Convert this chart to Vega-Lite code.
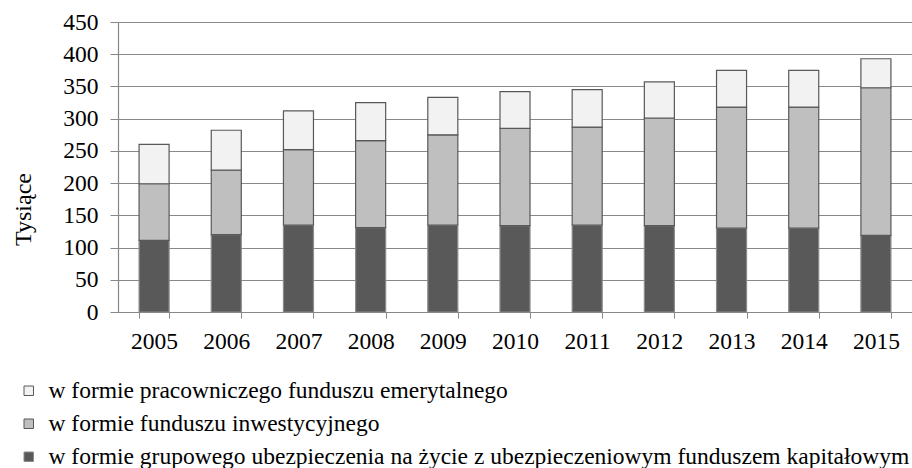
{
  "$schema": "https://vega.github.io/schema/vega-lite/v6.json",
  "width": 794,
  "height": 290,
  "autosize": {"type": "none"},
  "padding": {"left": 118, "top": 22, "right": 0, "bottom": 156},
  "background": "white",
  "config": {
    "view": {"stroke": null},
    "font": "Liberation Serif, Times New Roman, serif",
    "axis": {"labelFont": "Liberation Serif, Times New Roman, serif", "titleFont": "Liberation Serif, Times New Roman, serif", "labelColor": "#000", "titleColor": "#000"},
    "legend": {"labelFont": "Liberation Serif, Times New Roman, serif"}
  },
  "data": {
    "values": [
      {"rok": "2005", "seria": "w formie grupowego ubezpieczenia na życie z ubezpieczeniowym funduszem kapitałowym", "k": 1, "wartosc": 111},
      {"rok": "2005", "seria": "w formie funduszu inwestycyjnego", "k": 2, "wartosc": 88},
      {"rok": "2005", "seria": "w formie pracowniczego funduszu emerytalnego", "k": 3, "wartosc": 61},
      {"rok": "2006", "seria": "w formie grupowego ubezpieczenia na życie z ubezpieczeniowym funduszem kapitałowym", "k": 1, "wartosc": 120},
      {"rok": "2006", "seria": "w formie funduszu inwestycyjnego", "k": 2, "wartosc": 100},
      {"rok": "2006", "seria": "w formie pracowniczego funduszu emerytalnego", "k": 3, "wartosc": 62},
      {"rok": "2007", "seria": "w formie grupowego ubezpieczenia na życie z ubezpieczeniowym funduszem kapitałowym", "k": 1, "wartosc": 135},
      {"rok": "2007", "seria": "w formie funduszu inwestycyjnego", "k": 2, "wartosc": 117},
      {"rok": "2007", "seria": "w formie pracowniczego funduszu emerytalnego", "k": 3, "wartosc": 60},
      {"rok": "2008", "seria": "w formie grupowego ubezpieczenia na życie z ubezpieczeniowym funduszem kapitałowym", "k": 1, "wartosc": 131},
      {"rok": "2008", "seria": "w formie funduszu inwestycyjnego", "k": 2, "wartosc": 135},
      {"rok": "2008", "seria": "w formie pracowniczego funduszu emerytalnego", "k": 3, "wartosc": 59},
      {"rok": "2009", "seria": "w formie grupowego ubezpieczenia na życie z ubezpieczeniowym funduszem kapitałowym", "k": 1, "wartosc": 135},
      {"rok": "2009", "seria": "w formie funduszu inwestycyjnego", "k": 2, "wartosc": 140},
      {"rok": "2009", "seria": "w formie pracowniczego funduszu emerytalnego", "k": 3, "wartosc": 58},
      {"rok": "2010", "seria": "w formie grupowego ubezpieczenia na życie z ubezpieczeniowym funduszem kapitałowym", "k": 1, "wartosc": 134},
      {"rok": "2010", "seria": "w formie funduszu inwestycyjnego", "k": 2, "wartosc": 151},
      {"rok": "2010", "seria": "w formie pracowniczego funduszu emerytalnego", "k": 3, "wartosc": 57},
      {"rok": "2011", "seria": "w formie grupowego ubezpieczenia na życie z ubezpieczeniowym funduszem kapitałowym", "k": 1, "wartosc": 135},
      {"rok": "2011", "seria": "w formie funduszu inwestycyjnego", "k": 2, "wartosc": 152},
      {"rok": "2011", "seria": "w formie pracowniczego funduszu emerytalnego", "k": 3, "wartosc": 58},
      {"rok": "2012", "seria": "w formie grupowego ubezpieczenia na życie z ubezpieczeniowym funduszem kapitałowym", "k": 1, "wartosc": 134},
      {"rok": "2012", "seria": "w formie funduszu inwestycyjnego", "k": 2, "wartosc": 167},
      {"rok": "2012", "seria": "w formie pracowniczego funduszu emerytalnego", "k": 3, "wartosc": 56},
      {"rok": "2013", "seria": "w formie grupowego ubezpieczenia na życie z ubezpieczeniowym funduszem kapitałowym", "k": 1, "wartosc": 130},
      {"rok": "2013", "seria": "w formie funduszu inwestycyjnego", "k": 2, "wartosc": 188},
      {"rok": "2013", "seria": "w formie pracowniczego funduszu emerytalnego", "k": 3, "wartosc": 57},
      {"rok": "2014", "seria": "w formie grupowego ubezpieczenia na życie z ubezpieczeniowym funduszem kapitałowym", "k": 1, "wartosc": 130},
      {"rok": "2014", "seria": "w formie funduszu inwestycyjnego", "k": 2, "wartosc": 188},
      {"rok": "2014", "seria": "w formie pracowniczego funduszu emerytalnego", "k": 3, "wartosc": 57},
      {"rok": "2015", "seria": "w formie grupowego ubezpieczenia na życie z ubezpieczeniowym funduszem kapitałowym", "k": 1, "wartosc": 119},
      {"rok": "2015", "seria": "w formie funduszu inwestycyjnego", "k": 2, "wartosc": 229},
      {"rok": "2015", "seria": "w formie pracowniczego funduszu emerytalnego", "k": 3, "wartosc": 45}
    ]
  },
  "mark": {"type": "bar", "strokeWidth": 1.2},
  "encoding": {
    "x": {
      "field": "rok", "type": "ordinal",
      "scale": {"paddingInner": 0.584, "paddingOuter": 0.292},
      "axis": {
        "title": null, "labelAngle": 0, "labelFontSize": 23.5, "labelPadding": 11,
        "tickBand": "extent", "tickSize": 6, "tickColor": "#888", "domainColor": "#888", "domainWidth": 1.2
      }
    },
    "y": {
      "field": "wartosc", "type": "quantitative", "stack": "zero",
      "scale": {"domain": [0, 450], "nice": false},
      "axis": {
        "title": "Tysiące", "titleFontSize": 24, "titleFontWeight": "normal",
        "titleAngle": -90, "titleX": -107, "titleY": 187, "titleAlign": "center", "titleBaseline": "top",
        "values": [0, 50, 100, 150, 200, 250, 300, 350, 400, 450],
        "labelFontSize": 23.5, "labelPadding": 12, "tickSize": 8, "tickColor": "#888",
        "domainColor": "#888", "domainWidth": 1.2,
        "grid": true, "gridColor": "#888", "gridWidth": 1.2
      }
    },
    "color": {
      "field": "seria", "type": "nominal",
      "scale": {
        "domain": ["w formie pracowniczego funduszu emerytalnego", "w formie funduszu inwestycyjnego", "w formie grupowego ubezpieczenia na życie z ubezpieczeniowym funduszem kapitałowym"],
        "range": ["#f2f2f2", "#bfbfbf", "#595959"]
      },
      "legend": {
        "title": null, "orient": "none", "legendX": -101, "legendY": 357, "direction": "vertical",
        "padding": 0, "symbolType": "square", "symbolSize": 90, "symbolStrokeWidth": 1,
        "labelFontSize": 23.5, "labelFont": "Liberation Serif, Times New Roman, serif", "labelColor": "#000", "labelLimit": 1000,
        "labelOffset": 8, "rowPadding": 8
      }
    },
    "stroke": {
      "field": "seria", "type": "nominal",
      "scale": {
        "domain": ["w formie pracowniczego funduszu emerytalnego", "w formie funduszu inwestycyjnego", "w formie grupowego ubezpieczenia na życie z ubezpieczeniowym funduszem kapitałowym"],
        "range": ["#595959", "#595959", "#8c8c8c"]
      },
      "legend": null
    },
    "order": {"field": "k", "type": "quantitative", "sort": "ascending"}
  }
}
